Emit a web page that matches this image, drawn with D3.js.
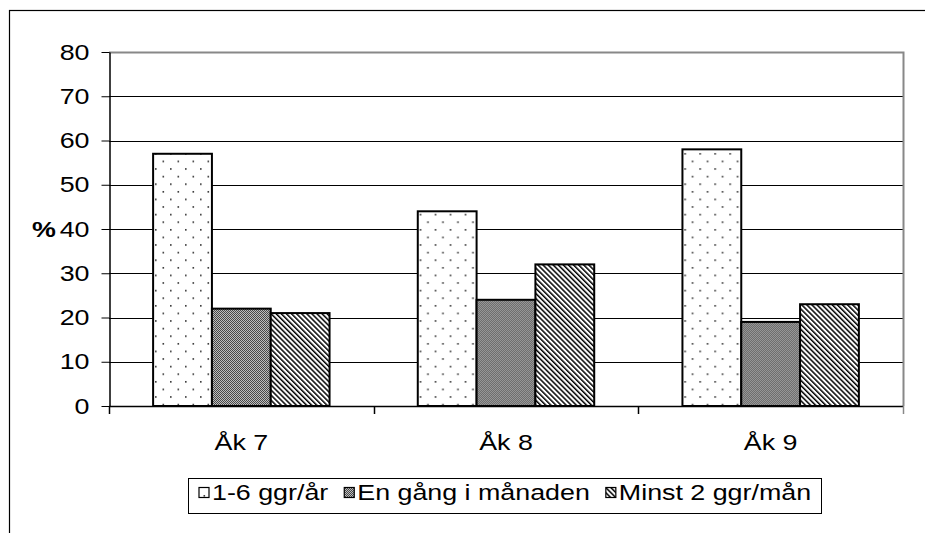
<!DOCTYPE html>
<html>
<head>
    <meta charset="utf-8">
    <title>Åk 7-9</title>
    <style>
        body { margin: 0; background: #fff; }
        text { font-family: "Liberation Sans", Arial, sans-serif; fill: #000; }
    </style>
</head>
<body>
<script src="https://d3js.org/d3.v7.min.js"></script>
<script>

    var categories = ['Åk 7', 'Åk 8', 'Åk 9'];
    var series = ['1-6 ggr/år', 'En gång i månaden', 'Minst 2 ggr/mån'];
    var values1 = [57, 44, 58];   // 1-6 ggr/år
    var values2 = [22, 24, 19];   // En gång i månaden
    var values3 = [21, 32, 23];   // Minst 2 ggr/mån
    var yTicks = [0, 10, 20, 30, 40, 50, 60, 70, 80];

    var width = 925,
        height = 533,
        plotLeft = 109, plotRight = 903, plotTop = 52, plotBottom = 406,
        sx = 1.22; // text in the picture is a bit stretched sideways

    var svg = d3.select('body').append('svg')
        .attr('width', width)
        .attr('height', height);

    var defs = svg.append('defs');

    // dots
    var p1 = defs.append('pattern').attr('id', 'pDots')
        .attr('patternUnits', 'userSpaceOnUse')
        .attr('width', 15).attr('height', 15.2);
    p1.append('rect').attr('width', 15).attr('height', 15.2).attr('fill', '#fff');
    p1.append('rect').attr('x', 1).attr('y', 1).attr('width', 1.6).attr('height', 1.6).attr('fill', '#333');
    p1.append('rect').attr('x', 8.5).attr('y', 8.6).attr('width', 1.6).attr('height', 1.6).attr('fill', '#333');

    // fine checker
    var p2 = defs.append('pattern').attr('id', 'pCheck')
        .attr('patternUnits', 'userSpaceOnUse')
        .attr('width', 2).attr('height', 2);
    p2.append('rect').attr('width', 2).attr('height', 2).attr('fill', '#474747');
    p2.append('rect').attr('width', 1).attr('height', 1).attr('fill', '#bdbdbd');
    p2.append('rect').attr('x', 1).attr('y', 1).attr('width', 1).attr('height', 1).attr('fill', '#bdbdbd');

    // diagonal stripes
    var p3 = defs.append('pattern').attr('id', 'pStripe')
        .attr('patternUnits', 'userSpaceOnUse')
        .attr('width', 3.6).attr('height', 10)
        .attr('patternTransform', 'rotate(-45)');
    p3.append('rect').attr('width', 3.6).attr('height', 10).attr('fill', '#fff');
    p3.append('rect').attr('width', 1.5).attr('height', 10).attr('fill', '#000');

    var fills = ['url(#pDots)', 'url(#pCheck)', 'url(#pStripe)'];

    // outer frame (runs off the picture at right and bottom)
    svg.append('rect')
        .attr('x', 9.5).attr('y', 10.5)
        .attr('width', 1000).attr('height', 1000)
        .attr('fill', 'none').attr('stroke', '#000').attr('stroke-width', 1.2);

    var y = d3.scaleLinear().domain([0, 80]).range([plotBottom, plotTop]);

    var x0 = d3.scaleBand().domain(categories).range([plotLeft, plotRight]).padding(0);
    var x1 = d3.scaleBand().domain(series).range([0, x0.bandwidth()])
        .paddingInner(0).paddingOuter(0.75);

    // gridlines
    svg.append('g').selectAll('line')
        .data(yTicks.filter(function (d) { return d > 0 && d < 80; }))
        .enter().append('line')
        .attr('x1', plotLeft).attr('x2', plotRight)
        .attr('y1', function (d) { return Math.round(y(d)) + 0.5; })
        .attr('y2', function (d) { return Math.round(y(d)) + 0.5; })
        .attr('stroke', '#000').attr('stroke-width', 1);

    // plot area top + right border
    svg.append('path')
        .attr('d', 'M' + plotLeft + ',' + (plotTop + 0.5) + 'H' + (plotRight + 0.5) + 'V' + plotBottom)
        .attr('fill', 'none').attr('stroke', '#888').attr('stroke-width', 2);

    // bars
    var data = [values1, values2, values3];
    var groups = svg.append('g').selectAll('g')
        .data(categories)
        .enter().append('g')
        .attr('transform', function (d) { return 'translate(' + x0(d) + ',0)'; });

    groups.selectAll('rect')
        .data(function (c, ci) {
            return series.map(function (s, si) { return { s: s, i: si, v: data[si][ci] }; });
        })
        .enter().append('rect')
        .attr('x', function (d) { return x1(d.s); })
        .attr('width', x1.bandwidth())
        .attr('y', function (d) { return y(d.v); })
        .attr('height', function (d) { return y(0) - y(d.v); })
        .attr('fill', function (d) { return fills[d.i]; })
        .attr('stroke', '#000').attr('stroke-width', 2);

    // y axis
    var yAxis = svg.append('g')
        .attr('transform', 'translate(' + (plotLeft + 0.5) + ',0)')
        .call(d3.axisLeft(y).tickValues(yTicks).tickSize(8).tickSizeOuter(0));
    yAxis.select('.domain').attr('stroke', '#000').attr('stroke-width', 1.5);
    yAxis.selectAll('.tick line').attr('stroke', '#000');
    yAxis.selectAll('.tick text')
        .attr('x', -20 / sx)
        .attr('transform', 'scale(' + sx + ',1)')
        .style('font-size', '22px');

    // x axis: line, boundary ticks, labels
    var bounds = categories.map(function (c) { return x0(c); }).concat([plotRight]);
    svg.append('line')
        .attr('x1', plotLeft).attr('x2', plotRight)
        .attr('y1', plotBottom + 0.5).attr('y2', plotBottom + 0.5)
        .attr('stroke', '#000').attr('stroke-width', 1.5);
    svg.append('g').selectAll('line')
        .data(bounds)
        .enter().append('line')
        .attr('x1', function (d) { return Math.round(d) + 0.5; })
        .attr('x2', function (d) { return Math.round(d) + 0.5; })
        .attr('y1', plotBottom).attr('y2', plotBottom + 8)
        .attr('stroke', function (d, i) { return i === bounds.length - 1 ? '#888' : '#000'; })
        .attr('stroke-width', 1.5);

    var xAxis = svg.append('g')
        .attr('transform', 'translate(0,' + plotBottom + ')')
        .call(d3.axisBottom(x0).tickSize(0).tickPadding(28));
    xAxis.select('.domain').remove();
    xAxis.selectAll('.tick text')
        .attr('transform', 'scale(' + sx + ',1)')
        .attr('x', 0)
        .style('font-size', '22px');

    // % label
    svg.append('text')
        .attr('transform', 'translate(44,' + y(40) + ') scale(' + sx + ',1)')
        .attr('text-anchor', 'middle')
        .attr('dy', '0.35em')
        .style('font-size', '22px')
        .style('font-weight', 'bold')
        .text('%');

    // legend
    var legend = svg.append('g');
    legend.append('rect')
        .attr('x', 188.5).attr('y', 478.5)
        .attr('width', 633).attr('height', 35)
        .attr('fill', '#fff').attr('stroke', '#000').attr('stroke-width', 1);

    var lx = 199;
    series.forEach(function (s, i) {
        legend.append('rect')
            .attr('x', lx).attr('y', 487.5)
            .attr('width', 10).attr('height', 10)
            .attr('fill', fills[i]).attr('stroke', '#000').attr('stroke-width', 1.2);
        var t = legend.append('text')
            .attr('transform', 'translate(' + (lx + 13) + ',499.5) scale(' + sx + ',1)')
            .style('font-size', '22px')
            .text(s);
        var w = t.node().getComputedTextLength() * sx;
        lx = lx + 13 + w + 16;
    });

</script>
</body>
</html>
